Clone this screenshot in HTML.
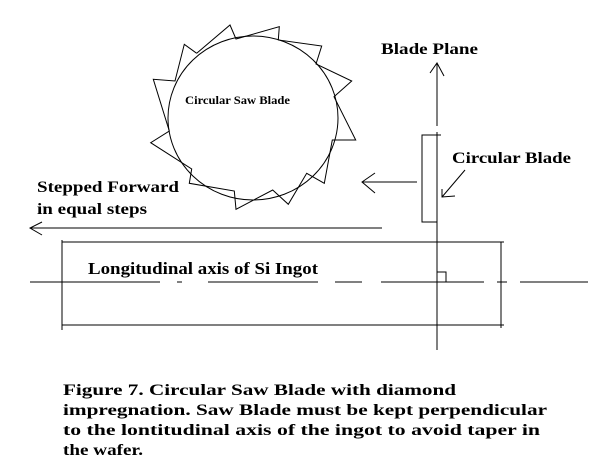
<!DOCTYPE html>
<html><head><style>body{margin:0;background:#fff}svg{display:block}</style></head><body>
<svg width="595" height="470" xmlns="http://www.w3.org/2000/svg" font-family="Liberation Serif, serif" font-weight="bold">
<g stroke="#000" stroke-width="1" fill="none">
<ellipse cx="253" cy="118" rx="85" ry="82"/>
<polyline points="196.7,53.3 230,25 236,39 279.3,26.7 278.3,40 321.7,46 316,64 351.7,81 334,96.7 355.7,140 332.3,140 324.3,183.3 306.7,173.3 288.3,204.3 272.7,190 236,209.3 234.3,191 189.3,183.3 191.7,169 150.7,142.7 169.3,131 153.3,79.3 175,81 184.3,44.3 196.7,53.3"/>
<line x1="437" y1="63" x2="437" y2="126"/>
<line x1="437" y1="132" x2="437" y2="350"/>
<polyline points="430,73 437,63 444,76"/>
<rect x="422" y="135" width="15" height="87"/>
<line x1="437" y1="135" x2="441" y2="135"/>
<line x1="362" y1="182" x2="417" y2="182"/>
<polyline points="375,173 362,182 375,193"/>
<line x1="465" y1="170" x2="442" y2="197"/>
<polyline points="442,189 442,197 455,196"/>
<line x1="30" y1="228" x2="382" y2="228"/>
<polyline points="42,222 30,228 42,235"/>
<line x1="62" y1="242" x2="504" y2="242"/>
<line x1="62" y1="325" x2="504" y2="325"/>
<line x1="62" y1="240" x2="62" y2="330"/>
<line x1="501" y1="242" x2="501" y2="328"/>
<g>
<line x1="30" y1="282" x2="160" y2="282"/>
<line x1="177" y1="282" x2="182" y2="282"/>
<line x1="208" y1="282" x2="318" y2="282"/>
<line x1="335" y1="282" x2="362" y2="282"/>
<line x1="381" y1="282" x2="484" y2="282"/>
<line x1="497" y1="282" x2="507" y2="282"/>
<line x1="520" y1="282" x2="588" y2="282"/>
</g>
<polyline points="437,272 446,272 446,282"/>
</g>
<text x="185" y="104" font-size="12" textLength="105" lengthAdjust="spacingAndGlyphs">Circular Saw Blade</text>
<text x="381" y="54" font-size="16" textLength="97" lengthAdjust="spacingAndGlyphs">Blade Plane</text>
<text x="452" y="163" font-size="16" textLength="119" lengthAdjust="spacingAndGlyphs">Circular Blade</text>
<text x="37" y="192" font-size="16" textLength="142" lengthAdjust="spacingAndGlyphs">Stepped Forward</text>
<text x="37" y="214" font-size="16" textLength="110" lengthAdjust="spacingAndGlyphs">in equal steps</text>
<text x="88" y="274" font-size="17" textLength="230" lengthAdjust="spacingAndGlyphs">Longitudinal axis of Si Ingot</text>
<g font-size="16">
<text x="63" y="395" textLength="393" lengthAdjust="spacingAndGlyphs">Figure 7. Circular Saw Blade with diamond</text>
<text x="63" y="415" textLength="484" lengthAdjust="spacingAndGlyphs">impregnation. Saw Blade must be kept perpendicular</text>
<text x="63" y="435" textLength="477" lengthAdjust="spacingAndGlyphs">to the lontitudinal axis of the ingot to avoid taper in</text>
<text x="63" y="455" textLength="80" lengthAdjust="spacingAndGlyphs">the wafer.</text>
</g>
</svg>
</body></html>
